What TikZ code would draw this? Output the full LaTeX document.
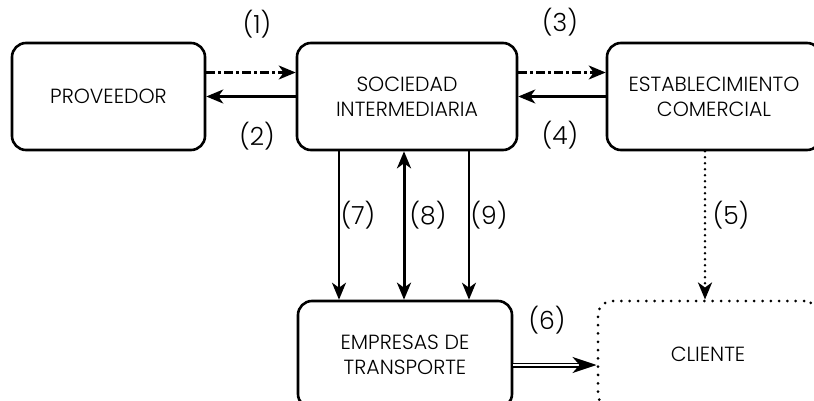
\documentclass[tikz,border=0pt]{standalone}
\usepackage{fontspec}
\setmainfont{Poppins}[UprightFont=* Light]
\usetikzlibrary{arrows.meta}
\tikzset{
	caja/.style={draw, line width=2.6pt, rounded corners=14pt, minimum height=107pt, align=center, inner sep=0pt, font=\fontsize{20.5}{25}\selectfont},
	etiq/.style={inner sep=0pt, font=\fontsize{25}{28}\selectfont},
	punta/.tip={Stealth[length=17pt,width=14pt,inset=5pt]},
	flecha/.style={line width=2.3pt, -punta}
}

\begin{document}
\begin{tikzpicture}[x=1pt,y=-1pt]
			%%%%% START %%%%%
			\useasboundingbox (0,0) rectangle (814,401);
			
			\node[caja, minimum width=193pt] (prov) at (108.5, 96.5) {PROVEEDOR};
			\node[caja, minimum width=220pt] (soc) at (407, 96.5) {SOCIEDAD\\INTERMEDIARIA};
			\node[caja, minimum width=214pt] (estab) at (714, 96.5) {ESTABLECIMIENTO\\COMERCIAL};
			\node[caja, minimum width=214pt] (emp) at (405, 354.5) {EMPRESAS DE\\TRANSPORTE};
			\node[caja, minimum width=220pt, line cap=round, dash pattern=on 0pt off 8.3pt, line width=3pt] (cli) at (708, 354.5) {CLIENTE};
			
			\draw[flecha, dash pattern=on 9pt off 3pt on 3pt off 3pt] ([yshift=24pt]prov.east) -- ([yshift=24pt]soc.west);
			\draw[flecha] (soc.west) -- (prov.east);
			\draw[flecha, dash pattern=on 9pt off 3pt on 3pt off 3pt] ([yshift=24pt]soc.east) -- ([yshift=24pt]estab.west);
			\draw[flecha] (estab.west) -- (soc.east);
			
			\coordinate (c7) at ([xshift=-68pt]soc.south);
			\coordinate (c9) at ([xshift=62pt]soc.south);
			\coordinate (c8) at ([xshift=-3pt]soc.south);
			\draw[flecha] (c7) -- (c7 |- emp.north);
			\draw[flecha, line width=3pt, punta-punta] (c8) -- (c8 |- emp.north);
			\draw[flecha] (c9) -- (c9 |- emp.north);
			
			\coordinate (c5) at ([xshift=-9pt]estab.south);
			\draw[flecha, line cap=round, dash pattern=on 0pt off 6pt, line width=2.8pt] (c5) -- (c5 |- cli.north);
			
			\coordinate (c6) at ([yshift=-10.5pt]emp.east);
			\draw[line width=1.5pt, double distance=2pt, shorten >=16pt] (c6) -- (c6 -| cli.west);
			\draw[line width=1.5pt, -{Stealth[length=24pt,width=16pt,inset=7pt]}] ([xshift=-18pt]c6 -| cli.west) -- (c6 -| cli.west);
			
			\node[etiq] (e1) at (257, 24) {(1)};
			\node[etiq] (e2) at (257, 136) {(2)};
			\node[etiq] (e3) at (560, 22) {(3)};
			\node[etiq] (e4) at (560, 135) {(4)};
			\node[etiq] (e5) at (731, 215) {(5)};
			\node[etiq] (e6) at (547, 320) {(6)};
			\node[etiq] (e7) at (358, 215) {(7)};
			\node[etiq] (e8) at (428, 215) {(8)};
			\node[etiq] (e9) at (489, 215) {(9)};
			%%%%% END %%%%%
\end{tikzpicture}
\end{document}
